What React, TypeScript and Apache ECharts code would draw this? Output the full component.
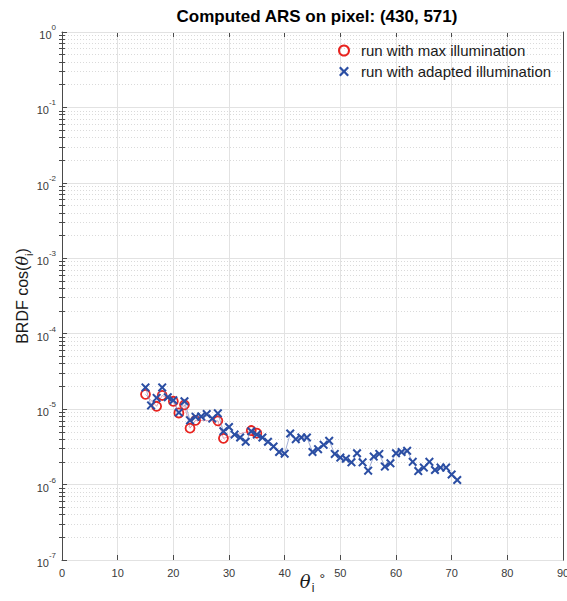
import React, { useEffect, useRef } from 'react';
import * as echarts from 'echarts';

// Incidence angles (deg) and BRDF·cos(θi) for the max-illumination run
const anglesMax = [15, 17, 18, 20, 21, 22, 23, 24, 28, 29, 34, 35];
const brdfMax = [1.57e-5, 1.09e-5, 1.52e-5, 1.27e-5, 8.9e-6, 1.14e-5, 5.6e-6, 7.1e-6, 7.0e-6, 4.1e-6, 5.2e-6, 4.8e-6];

// Incidence angles (deg) and BRDF·cos(θi) for the adapted-illumination run
const anglesAdapted = [
  15, 16, 17, 18, 19, 20, 21, 22, 23, 24, 25, 26, 27, 28, 29, 30, 31, 32, 33, 34,
  35, 36, 37, 38, 39, 40, 41, 42, 43, 44, 45, 46, 47, 48, 49, 50, 51, 52, 53, 54,
  55, 56, 57, 58, 59, 60, 61, 62, 63, 64, 65, 66, 67, 68, 69, 70, 71,
];
const brdfAdapted = [
  1.94e-5, 1.12e-5, 1.41e-5, 1.94e-5, 1.44e-5, 1.31e-5, 9.0e-6, 1.27e-5, 7.1e-6, 7.9e-6,
  8.0e-6, 8.6e-6, 7.5e-6, 8.8e-6, 5.1e-6, 5.8e-6, 4.6e-6, 4.2e-6, 3.7e-6, 5.1e-6,
  4.6e-6, 4.2e-6, 3.7e-6, 3.2e-6, 2.7e-6, 2.57e-6, 4.75e-6, 4.0e-6, 4.2e-6, 4.2e-6,
  2.7e-6, 2.95e-6, 3.36e-6, 3.8e-6, 2.55e-6, 2.28e-6, 2.2e-6, 1.97e-6, 2.6e-6, 1.97e-6,
  1.53e-6, 2.35e-6, 2.55e-6, 1.73e-6, 1.91e-6, 2.6e-6, 2.7e-6, 2.8e-6, 2.0e-6, 1.51e-6,
  1.68e-6, 2.0e-6, 1.56e-6, 1.68e-6, 1.68e-6, 1.36e-6, 1.15e-6,
];

// Axis ticks
const decadeExponents = [-7, -6, -5, -4, -3, -2, -1, 0];
const minorMultipliers = [2, 3, 4, 5, 6, 7, 8, 9];

const decadeTicks = decadeExponents.map((e) => Math.pow(10, e));
const minorTicks: number[] = [];
decadeExponents.slice(0, -1).forEach((e) => {
  minorMultipliers.forEach((m) => minorTicks.push(m * Math.pow(10, e)));
});

const FONT = '"Liberation Sans", Arial, Helvetica, sans-serif';
const AXIS_COLOR = '#4a4a4a';
const LABEL_COLOR = '#3a3a3a';
const RED = '#e8231f';
const BLUE = '#2b4ea3';
const CROSS = 'path://M0,1.6L1.6,0L5,3.4L8.4,0L10,1.6L6.6,5L10,8.4L8.4,10L5,6.6L1.6,10L0,8.4L3.4,5Z';

const zip = (xs: number[], ys: number[]) => xs.map((x, i) => [x, ys[i]]);

const buildOption = () => {
  const yBase = {
    type: 'log' as const,
    logBase: 10,
    min: 1e-7,
    max: 1,
  };
  return {
    animation: false,
    backgroundColor: '#ffffff',
    textStyle: { fontFamily: FONT },
    title: {
      text: 'Computed ARS on pixel: (430, 571)',
      left: 312,
      top: 3,
      textAlign: 'center',
      textStyle: { fontFamily: FONT, fontSize: 17, fontWeight: 'bold', color: '#000' },
    },
    legend: {
      orient: 'vertical',
      left: 333,
      top: 37,
      itemWidth: 14,
      itemHeight: 10,
      itemGap: 4,
      textStyle: { fontFamily: FONT, fontSize: 15, color: '#1a1a1a', lineHeight: 17, padding: [0, 0, 0, 5] },
      data: [
        {
          name: 'run with max illumination',
          icon: 'circle',
          itemStyle: { color: 'rgba(255,255,255,0)', borderColor: RED, borderWidth: 2 },
        },
        {
          name: 'run with adapted illumination',
          icon: CROSS,
          itemStyle: { color: BLUE, borderWidth: 0 },
        },
      ],
    },
    grid: { left: 62, right: 4, top: 32, bottom: 41, outerBoundsMode: 'none', containLabel: false },
    xAxis: [
      {
        type: 'value',
        min: 0,
        max: 90,
        interval: 10,
        position: 'bottom',
        name: '{t|θ}{s|i} {d|°}',
        nameLocation: 'middle',
        nameGap: 12,
        nameMoveOverlap: false,
        nameTextStyle: {
          rich: {
            t: { fontFamily: '"DejaVu Serif", serif', fontStyle: 'italic', fontSize: 18, color: '#1a1a1a', verticalAlign: 'top', lineHeight: 22 },
            s: { fontFamily: FONT, fontSize: 12, color: '#1a1a1a', verticalAlign: 'bottom', lineHeight: 12, padding: [0, 0, 0, 1] },
            d: { fontFamily: FONT, fontSize: 14, color: '#1a1a1a', verticalAlign: 'top', lineHeight: 14, padding: [0, 0, 0, 2] },
          },
        },
        axisLine: { show: true, onZero: false, lineStyle: { color: AXIS_COLOR, width: 1 } },
        axisTick: { show: true, inside: true, length: 5, lineStyle: { color: AXIS_COLOR } },
        axisLabel: { fontFamily: FONT, fontSize: 11, color: LABEL_COLOR, margin: 7 },
        splitLine: { show: true, lineStyle: { color: '#e2e2e2', width: 1 } },
      },
      {
        type: 'value',
        min: 0,
        max: 90,
        interval: 10,
        position: 'top',
        axisLine: { show: true, onZero: false, lineStyle: { color: AXIS_COLOR, width: 1 } },
        axisTick: { show: true, inside: true, length: 5, lineStyle: { color: AXIS_COLOR } },
        axisLabel: { show: false },
        splitLine: { show: false },
      },
    ],
    yAxis: [
      {
        ...yBase,
        position: 'left',
        name: '{a|BRDF cos(}{t|θ}{s|i}{a|)}',
        nameLocation: 'middle',
        nameGap: 28,
        nameMoveOverlap: false,
        nameTextStyle: {
          rich: {
            a: { fontFamily: FONT, fontSize: 16, color: '#1a1a1a', verticalAlign: 'top', lineHeight: 20 },
            t: { fontFamily: '"DejaVu Serif", serif', fontStyle: 'italic', fontSize: 16, color: '#1a1a1a', verticalAlign: 'top', lineHeight: 20 },
            s: { fontFamily: FONT, fontSize: 11, color: '#1a1a1a', verticalAlign: 'bottom', lineHeight: 11 },
          },
        },
        axisLine: { show: true, onZero: false, lineStyle: { color: AXIS_COLOR, width: 1 } },
        axisTick: { show: true, inside: true, length: 5, customValues: decadeTicks, lineStyle: { color: AXIS_COLOR } },
        axisLabel: {
          customValues: decadeTicks,
          margin: 6,
          formatter: (v: number) => `{b|10}{e|${Math.round(Math.log10(v))}}`,
          rich: {
            b: { fontFamily: FONT, fontSize: 11, color: LABEL_COLOR, verticalAlign: 'bottom', lineHeight: 17 },
            e: { fontFamily: FONT, fontSize: 8, color: LABEL_COLOR, verticalAlign: 'top', lineHeight: 9 },
          },
        },
        splitLine: { show: true, lineStyle: { color: '#e2e2e2', width: 1 } },
        z: 1,
      },
      {
        ...yBase,
        position: 'right',
        axisLine: { show: true, onZero: false, lineStyle: { color: AXIS_COLOR, width: 1 } },
        axisTick: { show: true, inside: true, length: 5, customValues: decadeTicks, lineStyle: { color: AXIS_COLOR } },
        axisLabel: { show: false },
        splitLine: { show: false },
      },
      {
        // minor decades: ticks plus dotted grid lines
        ...yBase,
        position: 'left',
        axisLine: { show: false },
        axisTick: { show: true, inside: true, length: 3, customValues: minorTicks, lineStyle: { color: AXIS_COLOR } },
        axisLabel: { show: false },
        splitLine: { show: true, lineStyle: { color: '#dadada', type: [1, 2], width: 1 } },
        z: 0,
      },
      {
        ...yBase,
        position: 'right',
        axisLine: { show: false },
        axisTick: { show: true, inside: true, length: 3, customValues: minorTicks, lineStyle: { color: AXIS_COLOR } },
        axisLabel: { show: false },
        splitLine: { show: false },
      },
    ],
    series: [
      {
        name: 'run with max illumination',
        type: 'line',
        xAxisIndex: 0,
        yAxisIndex: 0,
        data: zip(anglesMax, brdfMax),
        symbol: 'circle',
        symbolSize: 9,
        showAllSymbol: true,
        itemStyle: { color: 'rgba(255,255,255,0)', borderColor: RED, borderWidth: 1.8 },
        lineStyle: { color: '#c86a8a', width: 0.6 },
        z: 2,
      },
      {
        name: 'run with adapted illumination',
        type: 'line',
        xAxisIndex: 0,
        yAxisIndex: 0,
        data: zip(anglesAdapted, brdfAdapted),
        symbol: CROSS,
        symbolSize: 9,
        showAllSymbol: true,
        itemStyle: { color: BLUE },
        lineStyle: { color: '#6478b8', width: 0.6 },
        z: 3,
      },
    ],
  };
};

export default function App() {
  const ref = useRef<HTMLDivElement>(null);
  useEffect(() => {
    if (!ref.current) return;
    const chart = echarts.init(ref.current, null, { renderer: 'svg' });
    chart.setOption(buildOption() as any);
    return () => chart.dispose();
  }, []);
  return (
    <div
      ref={ref}
      style={{ position: 'fixed', left: 0, top: 0, width: 567, height: 601, background: '#ffffff' }}
    />
  );
}
